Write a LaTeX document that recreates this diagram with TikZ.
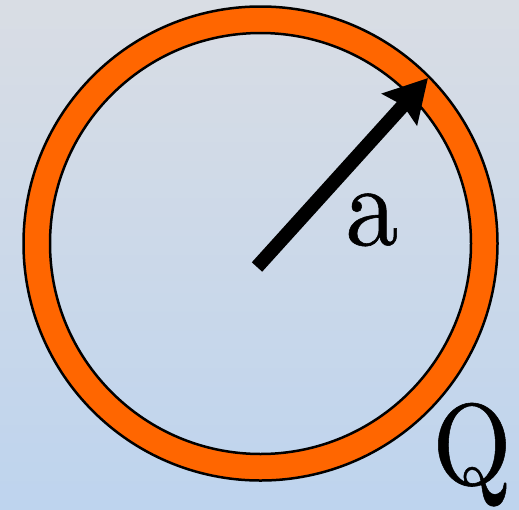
\documentclass[tikz,border=0pt]{standalone}
\usepackage{fontspec}
\newfontfamily\labelfont{lmroman10-regular.otf}[FakeBold=0.5]
\usetikzlibrary{arrows.meta}
\definecolor{bgtop}{RGB}{217,221,228}
\definecolor{bgbot}{RGB}{190,212,238}
\definecolor{ringorange}{RGB}{255,102,0}
\tikzset{
  ring/.style={fill=ringorange, draw=black, line width=2.5pt, even odd rule},
  radius arrow/.style={line width=14pt, -{Stealth[length=42pt,width=46pt,inset=5pt]}},
  biglabel/.style={font=\labelfont\fontsize{115}{120}\selectfont, inner sep=0pt, anchor=base}
}
\begin{document}
\begin{tikzpicture}[x=1pt,y=-1pt]
\useasboundingbox (0,0) rectangle (519,509);
\shade[top color=bgtop, bottom color=bgbot] (0,0) rectangle (519,509);
\coordinate (c) at (260.5,243.5);
\path[ring] (c) circle[radius=237] (c) circle[radius=210.5];
\coordinate (start) at (257,267);
\coordinate (tip) at (428,78);
\draw[radius arrow] (start) -- (tip);
\node[biglabel, xscale=0.92] (a) at (372,245) {a};
\node[biglabel, xscale=0.88] (Q) at (472,484) {Q};
\end{tikzpicture}
\end{document}
